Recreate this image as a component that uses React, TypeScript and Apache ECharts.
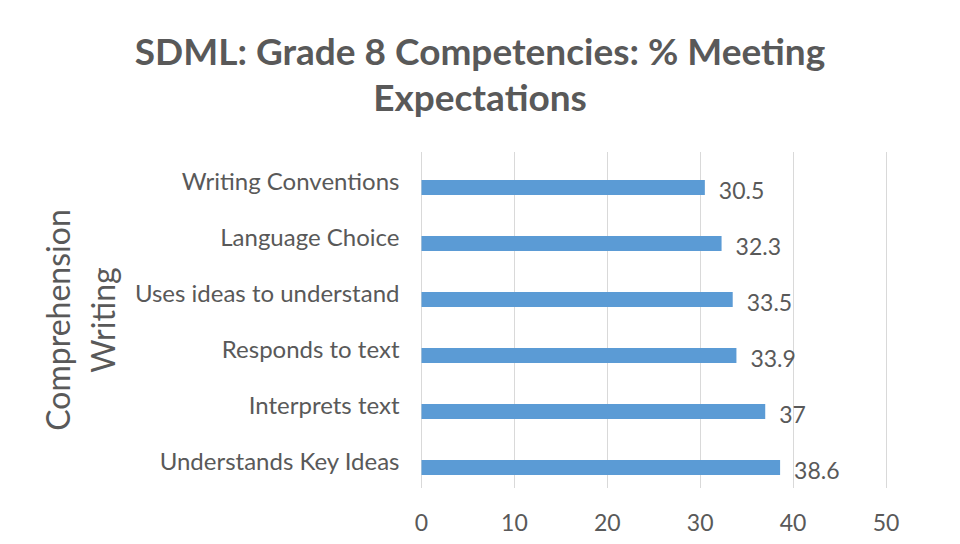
import React, { useEffect, useRef } from "react";
import * as echarts from "echarts";

const titleText = "SDML: Grade 8 Competencies: % Meeting\nExpectations";
const axisNameText = "Comprehension\nWriting";
const categories = [
  "Understands Key Ideas",
  "Interprets text",
  "Responds to text",
  "Uses ideas to understand",
  "Language Choice",
  "Writing Conventions",
];
const values = [38.6, 37, 33.9, 33.5, 32.3, 30.5];
const xMin = 0;
const xMax = 50;
const xInterval = 10;

const FONT = "Lato";
const TEXT = "#595959";

export default function App() {
  const ref = useRef<HTMLDivElement>(null);
  useEffect(() => {
    if (!ref.current) return;
    const chart = echarts.init(ref.current, null, { renderer: "svg" });
    chart.setOption({
      animation: false,
      backgroundColor: "#ffffff",
      title: {
        text: titleText,
        left: "center",
        top: 22,
        textStyle: {
          fontFamily: FONT,
          fontSize: 37,
          fontWeight: "bold",
          color: TEXT,
          lineHeight: 46,
        },
      },
      graphic: [
        {
          type: "rect",
          left: 2,
          top: 0,
          shape: { width: 2, height: 544 },
          style: { fill: "#d4d4d4" },
        },
      ],
      grid: { left: 421.5, right: 74, top: 152, bottom: 56, containLabel: false },
      xAxis: {
        type: "value",
        min: xMin,
        max: xMax,
        interval: xInterval,
        axisLine: { show: false },
        axisTick: { show: false },
        axisLabel: { fontFamily: FONT, fontSize: 23, color: TEXT, margin: 22 },
        splitLine: { show: true, lineStyle: { color: "#d9d9d9", width: 1 } },
      },
      yAxis: {
        type: "category",
        data: categories,
        name: axisNameText,
        nameLocation: "middle",
        nameRotate: 90,
        nameGap: 297,
        nameTextStyle: { fontFamily: FONT, fontSize: 32, color: TEXT, lineHeight: 45 },
        axisLine: { show: false },
        axisTick: { show: false },
        axisLabel: { fontFamily: FONT, fontSize: 24, color: TEXT, margin: 22 },
        splitLine: { show: false },
      },
      series: [
        {
          type: "bar",
          data: categories.map(() => null),
          barWidth: 15,
          barGap: "0%",
          silent: true,
        },
        {
          type: "bar",
          data: values,
          barWidth: 15,
          barGap: "0%",
          itemStyle: { color: "#5b9bd5" },
          label: {
            show: true,
            position: "right",
            distance: 14,
            fontFamily: FONT,
            fontSize: 23,
            color: TEXT,
            offset: [0, 2],
          },
        },
      ],
    });
    return () => chart.dispose();
  }, []);
  return <div ref={ref} style={{ width: 960, height: 544, margin: -8 }} />;
}
